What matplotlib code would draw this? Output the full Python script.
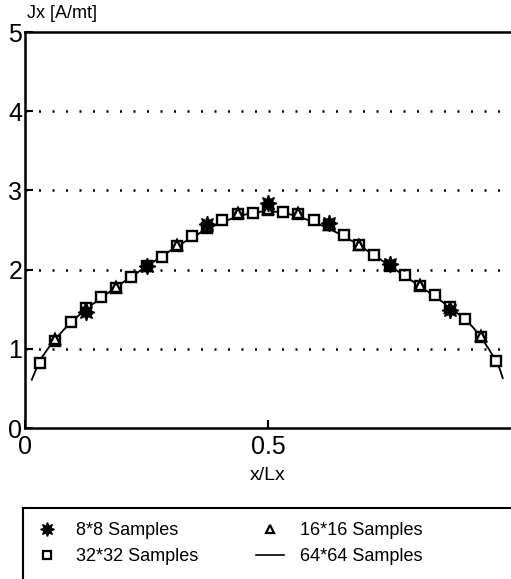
import matplotlib
matplotlib.use('Agg')
import matplotlib.pyplot as plt
from matplotlib.lines import Line2D

# 8x8 samples (asterisks)
x8 = [1/8, 2/8, 3/8, 4/8, 5/8, 6/8, 7/8]
y8 = [1.47, 2.05, 2.58, 2.84, 2.59, 2.07, 1.49]

# 16x16 samples (triangles)
x16 = [k / 16 for k in range(1, 16)]
y16 = [1.12, 1.50, 1.78, 2.04, 2.31, 2.55, 2.71, 2.76,
       2.71, 2.56, 2.31, 2.06, 1.80, 1.52, 1.16]

# 32x32 samples (squares)
x32 = [k / 32 for k in range(1, 32)]
y32 = [0.82, 1.10, 1.34, 1.52, 1.65, 1.77, 1.91, 2.04, 2.16, 2.30,
       2.42, 2.53, 2.62, 2.70, 2.72, 2.75, 2.73, 2.70, 2.63, 2.56,
       2.44, 2.31, 2.18, 2.05, 1.93, 1.79, 1.68, 1.53, 1.37, 1.15, 0.84]

# 64x64 samples (line)
x64 = [0.014, 0.0234, 0.03125, 0.0469, 0.0625, 0.078, 0.09375, 0.125, 0.15625,
       0.1875, 0.21875, 0.25, 0.28125, 0.3125, 0.34375, 0.375, 0.40625, 0.4375,
       0.46875, 0.5, 0.53125, 0.5625, 0.59375, 0.625, 0.65625, 0.6875, 0.71875,
       0.75, 0.78125, 0.8125, 0.84375, 0.875, 0.90625, 0.922, 0.9375, 0.953,
       0.96875, 0.9766, 0.983]
y64 = [0.61, 0.75, 0.86, 1.00, 1.12, 1.23, 1.33, 1.50, 1.64, 1.78, 1.91,
       2.04, 2.17, 2.29, 2.41, 2.51, 2.60, 2.67, 2.72, 2.74, 2.72, 2.67,
       2.60, 2.52, 2.42, 2.31, 2.18, 2.05, 1.92, 1.79, 1.66, 1.52, 1.37,
       1.27, 1.15, 1.01, 0.85, 0.75, 0.63]

plt.rcParams['font.family'] = ['Liberation Sans', 'DejaVu Sans']

fig = plt.figure(figsize=(5.11, 5.79), dpi=100)
ax = fig.add_axes([25 / 511, 151 / 579, 1 - 25 / 511, 396 / 579])

ax.plot(x64, y64, color='black', lw=1.3)
ax.plot(x32, y32, ls='none', marker='s', ms=7, mfc='white', mec='black', mew=1.7)
ax.plot(x16, y16, ls='none', marker='^', ms=7, mfc='none', mec='black', mew=1.7)
ax.plot(x8, y8, ls='none', marker=(8, 1, 0), ms=12, color='black')

for yv in [1, 2, 3, 4]:
    ax.axhline(yv, color='black', lw=1.8, ls=(0, (0.8, 4.6)))

ax.set_xlim(0, 1.0)
ax.set_ylim(0, 5)
ax.set_xticks([0, 0.5])
ax.set_xticklabels(['0', '0.5'])
ax.set_yticks([0, 1, 2, 3, 4, 5])
ax.tick_params(direction='in', length=6, width=1.5, labelsize=18)
ax.tick_params(axis='x', pad=5)
ax.tick_params(axis='y', pad=2)
ax.spines['right'].set_visible(False)
for s in ['left', 'bottom', 'top']:
    ax.spines[s].set_linewidth(1.8)
ax.set_xlabel('x/Lx', fontsize=14, labelpad=6)
fig.text(27 / 511, 1 - 14 / 579, 'Jx [A/mt]', fontsize=13, va='center', ha='left')

# legend box
lax = fig.add_axes([23 / 511, -0.05, 1.0, (579 - 508) / 579 + 0.05])
lax.set_xticks([])
lax.set_yticks([])
for s in lax.spines.values():
    s.set_linewidth(1.5)
handles = [
    Line2D([], [], ls='none', marker=(8, 1, 0), ms=10, color='black'),
    Line2D([], [], ls='none', marker='s', ms=6, mfc='white', mec='black', mew=1.6),
    Line2D([], [], ls='none', marker='^', ms=6, mfc='none', mec='black', mew=1.6),
    Line2D([], [], color='black', lw=1.2),
]
labels = ['8*8 Samples', '32*32 Samples', '16*16 Samples', '64*64 Samples']
lax.legend(handles, labels, ncol=2, frameon=False, fontsize=13,
           loc='upper left', bbox_to_anchor=(-0.012, 1.02, 0.99, 0.0),
           handlelength=1.5, handletextpad=0.9, columnspacing=3.2, labelspacing=0.5)

plt.savefig('out.png', dpi=100)
